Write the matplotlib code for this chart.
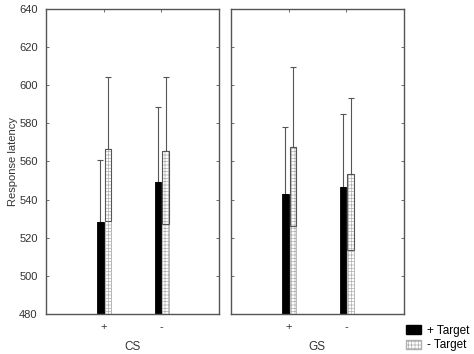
import matplotlib
matplotlib.use("Agg")
import matplotlib.pyplot as plt
from matplotlib.patches import Patch

plt.rcParams['font.family'] = ['Liberation Sans', 'DejaVu Sans']
plt.rcParams['hatch.linewidth'] = 0.5

groups = ["CS", "GS"]
conditions = ["+", "-"]
# mean and upper error for "+ Target" and "- Target", per group
plus_mean = {"CS": [528.4, 549.1], "GS": [543.1, 546.5]}
plus_err = {"CS": [32.4, 39.3], "GS": [34.8, 38.3]}
minus_mean = {"CS": [566.6, 565.7], "GS": [567.8, 553.5]}
minus_err = {"CS": [37.6, 38.7], "GS": [41.5, 40.0]}
yticks = [480, 500, 520, 540, 560, 580, 600, 620, 640]

spine_c = "#555555"
fig = plt.figure(figsize=(4.74, 3.54), dpi=100)
axes = [fig.add_axes([0.097, 0.113, 0.365, 0.862]),
        fig.add_axes([0.487, 0.113, 0.365, 0.862])]

w = 0.115
base = 480
for ax, g in zip(axes, groups):
    xs = [1, 2]
    for i, x in enumerate(xs):
        m1, e1 = plus_mean[g][i], plus_err[g][i]
        m2, e2 = minus_mean[g][i], minus_err[g][i]
        # black bar
        ax.bar(x - w / 2, m1 - base, bottom=base, width=w, color="black",
               edgecolor="black", lw=0.6, zorder=2)
        ax.errorbar(x - w / 2, m1, yerr=[[0], [e1]], fmt="none",
                    ecolor=spine_c, elinewidth=0.8, capsize=2.5, capthick=0.8, zorder=1)
        # hatched bar
        xh = x + 0.02 + w / 2
        ax.bar(xh, m2 - base, bottom=base, width=w, color="white",
               edgecolor="#b0b0b0", hatch="+++++", lw=0.6, zorder=2)
        ax.bar(xh, e2, bottom=m2 - e2, width=w, color="none",
               edgecolor=spine_c, lw=0.8, zorder=3)
        ax.errorbar(xh, m2, yerr=[[0], [e2]], fmt="none",
                    ecolor=spine_c, elinewidth=0.8, capsize=2.5, capthick=0.8, zorder=1)
    ax.set_xlim(0, 3)
    ax.set_ylim(480, 640)
    ax.set_xticks(xs)
    ax.set_xticklabels(conditions)
    ax.set_yticks(yticks)
    ax.tick_params(direction="in", top=True, right=True, length=2, width=0.6,
                   color=spine_c, labelsize=8, labelcolor="#333333", pad=6)
    ax.set_xlabel(g, fontsize=8.5, color="#333333", labelpad=6)
    for s in ax.spines.values():
        s.set_color(spine_c)
        s.set_linewidth(1.0)

axes[1].tick_params(labelleft=False)
axes[0].set_ylabel("Response latency", fontsize=8, color="#333333", labelpad=1)

handles = [Patch(facecolor="black", edgecolor="black", label="+ Target"),
           Patch(facecolor="white", edgecolor="#b0b0b0", hatch="+++++", label="- Target")]
fig.legend(handles=handles, loc="lower right", bbox_to_anchor=(1.006, -0.012),
           frameon=False, fontsize=8.5, handlelength=1.3, handleheight=0.8,
           handletextpad=0.5, labelspacing=0.2, borderaxespad=0.2)

fig.savefig("out.png", dpi=100)
